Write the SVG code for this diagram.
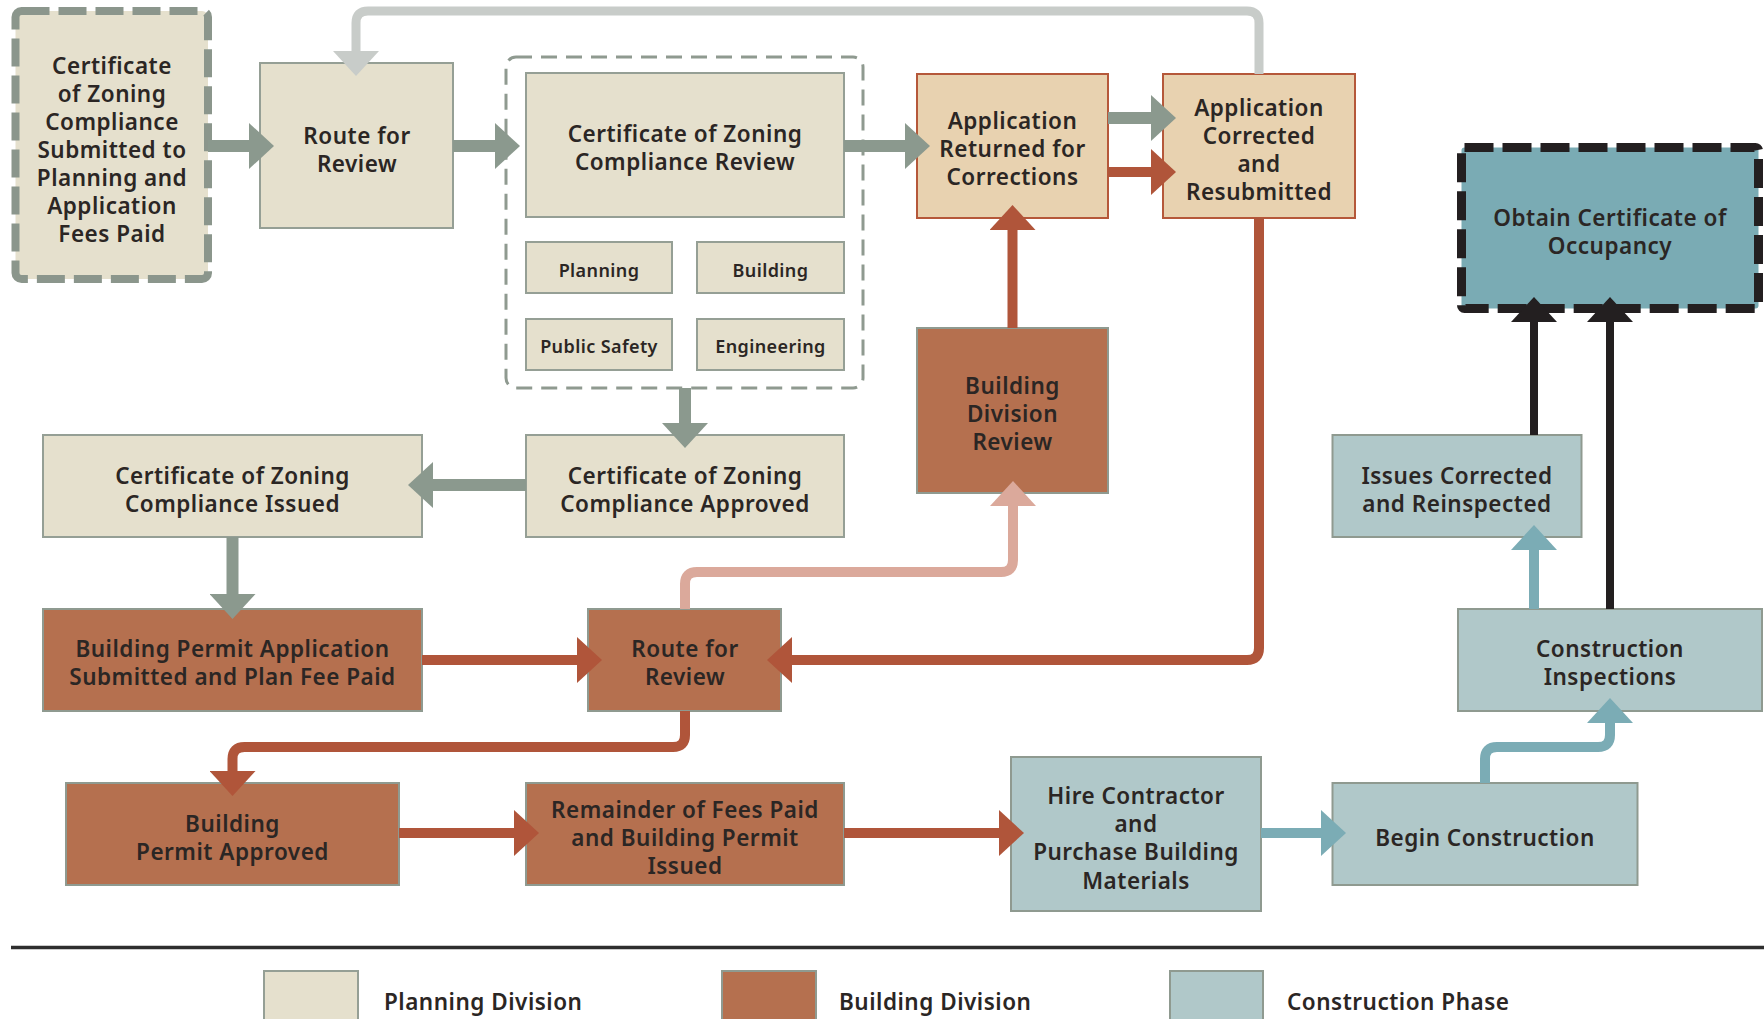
<svg xmlns="http://www.w3.org/2000/svg" width="1764" height="1019" viewBox="0 0 1764 1019">
<defs>
<style>
text{font-family:"Noto Sans",Lato,"Liberation Sans",sans-serif;font-weight:600;fill:#2b2624;text-anchor:middle;dominant-baseline:central;font-size:22.5px;letter-spacing:0.5px}
.sm{font-size:18px;letter-spacing:0.4px}
.lg{text-anchor:start;font-size:22.5px}
.pl{fill:#e5e0cd;stroke:#959f95;stroke-width:2}
.bd{fill:#b5704f;stroke:#8f9a90;stroke-width:2}
.cn{fill:#b0c8c9;stroke:#8f9a90;stroke-width:2}
.tn{fill:#e8d2b0;stroke:#b5583a;stroke-width:2}
.c{fill:none;stroke-linejoin:round}
.g{stroke:#8b998e;stroke-width:12}
.r{stroke:#b0553a;stroke-width:10}
.s{stroke:#dba99b;stroke-width:10}
.t{stroke:#7bacb5;stroke-width:10}
.k{stroke:#231f20;stroke-width:8}
.lgr{stroke:#c8ccc9;stroke-width:9}
</style>
<marker id="mg" markerUnits="userSpaceOnUse" viewBox="0 0 25 46" refX="0" refY="23" markerWidth="25" markerHeight="46" orient="auto"><path d="M0,0 L25,23 L0,46 z" fill="#8b998e"/></marker>
<marker id="mr" markerUnits="userSpaceOnUse" viewBox="0 0 25 46" refX="0" refY="23" markerWidth="25" markerHeight="46" orient="auto"><path d="M0,0 L25,23 L0,46 z" fill="#b0553a"/></marker>
<marker id="ms" markerUnits="userSpaceOnUse" viewBox="0 0 25 46" refX="0" refY="23" markerWidth="25" markerHeight="46" orient="auto"><path d="M0,0 L25,23 L0,46 z" fill="#dba99b"/></marker>
<marker id="mt" markerUnits="userSpaceOnUse" viewBox="0 0 25 46" refX="0" refY="23" markerWidth="25" markerHeight="46" orient="auto"><path d="M0,0 L25,23 L0,46 z" fill="#7bacb5"/></marker>
<marker id="mk" markerUnits="userSpaceOnUse" viewBox="0 0 25 46" refX="0" refY="23" markerWidth="25" markerHeight="46" orient="auto"><path d="M0,0 L25,23 L0,46 z" fill="#231f20"/></marker>
<marker id="ml" markerUnits="userSpaceOnUse" viewBox="0 0 25 46" refX="0" refY="23" markerWidth="25" markerHeight="46" orient="auto"><path d="M0,0 L25,23 L0,46 z" fill="#c8ccc9"/></marker>
</defs>
<rect width="1764" height="1019" fill="#ffffff"/>

<g id="czc-group">
<rect x="506" y="57" width="357" height="331" rx="10" fill="none" stroke="#8f9a90" stroke-width="3" stroke-dasharray="16 9"/>
</g>

<g id="n-submitted">
<rect x="15.5" y="11" width="192.5" height="268" rx="6" fill="#e5e0cd" stroke="#8b968c" stroke-width="8" stroke-dasharray="28 9"/>
<text x="112" y="65">Certificate</text>
<text x="112" y="93">of Zoning</text>
<text x="112" y="121">Compliance</text>
<text x="112" y="149">Submitted to</text>
<text x="112" y="177">Planning and</text>
<text x="112" y="205">Application</text>
<text x="112" y="233">Fees Paid</text>
</g>

<g id="n-route1">
<rect class="pl" x="260" y="63" width="193" height="165"/>
<text x="357" y="135">Route for</text>
<text x="357" y="163">Review</text>
</g>

<g id="n-czc-review">
<rect class="pl" x="526" y="73" width="318" height="144"/>
<text x="685" y="133">Certificate of Zoning</text>
<text x="685" y="161">Compliance Review</text>
</g>

<g id="n-planning"><rect class="pl" x="526" y="242" width="146" height="51"/><text class="sm" x="599" y="270">Planning</text></g>
<g id="n-building"><rect class="pl" x="697" y="242" width="147" height="51"/><text class="sm" x="770.5" y="270">Building</text></g>
<g id="n-publicsafety"><rect class="pl" x="526" y="319" width="146" height="51"/><text class="sm" x="599" y="346">Public Safety</text></g>
<g id="n-engineering"><rect class="pl" x="697" y="319" width="147" height="51"/><text class="sm" x="770.5" y="346">Engineering</text></g>

<g id="n-returned">
<rect class="tn" x="917" y="74" width="191" height="144"/>
<text x="1012.5" y="120.5">Application</text>
<text x="1012.5" y="148.5">Returned for</text>
<text x="1012.5" y="176.5">Corrections</text>
</g>

<g id="n-corrected">
<rect class="tn" x="1163" y="74" width="192" height="144"/>
<text x="1259" y="107">Application</text>
<text x="1259" y="135">Corrected</text>
<text x="1259" y="163">and</text>
<text x="1259" y="191">Resubmitted</text>
</g>

<g id="n-occupancy">
<rect x="1461.5" y="147.5" width="297" height="161" fill="#7aabb4" stroke="#231f20" stroke-width="9" stroke-dasharray="29 9" rx="3"/>
<text x="1610" y="217">Obtain Certificate of</text>
<text x="1610" y="245">Occupancy</text>
</g>

<g id="n-bdr">
<rect class="bd" x="917" y="328" width="191" height="165"/>
<text x="1012.5" y="385">Building</text>
<text x="1012.5" y="413">Division</text>
<text x="1012.5" y="441">Review</text>
</g>

<g id="n-czc-issued">
<rect class="pl" x="43" y="435" width="379" height="102"/>
<text x="232.5" y="475">Certificate of Zoning</text>
<text x="232.5" y="503">Compliance Issued</text>
</g>

<g id="n-czc-approved">
<rect class="pl" x="526" y="435" width="318" height="102"/>
<text x="685" y="475">Certificate of Zoning</text>
<text x="685" y="503">Compliance Approved</text>
</g>

<g id="n-bp-app">
<rect class="bd" x="43" y="609" width="379" height="102"/>
<text x="232.5" y="648">Building Permit Application</text>
<text x="232.5" y="676">Submitted and Plan Fee Paid</text>
</g>

<g id="n-route2">
<rect class="bd" x="588" y="609" width="193" height="102"/>
<text x="685" y="648">Route for</text>
<text x="685" y="676">Review</text>
</g>

<g id="n-bp-approved">
<rect class="bd" x="66" y="783" width="333" height="102"/>
<text x="232.5" y="823.5">Building</text>
<text x="232.5" y="851.5">Permit Approved</text>
</g>

<g id="n-remainder">
<rect class="bd" x="526" y="783" width="318" height="102"/>
<text x="685" y="809">Remainder of Fees Paid</text>
<text x="685" y="837">and Building Permit</text>
<text x="685" y="865">Issued</text>
</g>

<g id="n-hire">
<rect class="cn" x="1011" y="757" width="250" height="154"/>
<text x="1136" y="795">Hire Contractor</text>
<text x="1136" y="823.5">and</text>
<text x="1136" y="851.5">Purchase Building</text>
<text x="1136" y="880">Materials</text>
</g>

<g id="n-begin">
<rect class="cn" x="1332.5" y="783" width="305" height="102"/>
<text x="1485" y="837">Begin Construction</text>
</g>

<g id="n-issues">
<rect class="cn" x="1332.5" y="435" width="249" height="102"/>
<text x="1457" y="475">Issues Corrected</text>
<text x="1457" y="503">and Reinspected</text>
</g>

<g id="n-inspections">
<rect class="cn" x="1458" y="609" width="304" height="102"/>
<text x="1610" y="648">Construction</text>
<text x="1610" y="676">Inspections</text>
</g>

<g id="connectors">
<path class="c lgr" d="M1259,74 V23 Q1259,11 1247,11 H368 Q356,11 356,23 V51" marker-end="url(#ml)"/>
<path class="c g" d="M208,146 H249" marker-end="url(#mg)"/>
<path class="c g" d="M453,146 H495" marker-end="url(#mg)"/>
<path class="c g" d="M844,146 H905" marker-end="url(#mg)"/>
<path class="c g" d="M1108,118 H1151" marker-end="url(#mg)"/>
<path class="c g" d="M685,388 V423" marker-end="url(#mg)"/>
<path class="c g" d="M526,485 H433" marker-end="url(#mg)"/>
<path class="c g" d="M232.5,537 V594" marker-end="url(#mg)"/>
<path class="c r" d="M1108,172 H1151" marker-end="url(#mr)"/>
<path class="c r" d="M1012.5,328 V230" marker-end="url(#mr)"/>
<path class="c r" d="M1259,218 V648 Q1259,660 1247,660 H792" marker-end="url(#mr)"/>
<path class="c r" d="M422,660 H577" marker-end="url(#mr)"/>
<path class="c r" d="M685,711 V735 Q685,747 673,747 H244.5 Q232.5,747 232.5,759 V771" marker-end="url(#mr)"/>
<path class="c r" d="M399,833 H514" marker-end="url(#mr)"/>
<path class="c r" d="M844,833 H999" marker-end="url(#mr)"/>
<path class="c s" d="M685,609 V584 Q685,572 697,572 H1001 Q1013,572 1013,560 V506" marker-end="url(#ms)"/>
<path class="c t" d="M1261,833 H1321" marker-end="url(#mt)"/>
<path class="c t" d="M1485,783 V759 Q1485,747 1497,747 H1598 Q1610,747 1610,735 V723" marker-end="url(#mt)"/>
<path class="c t" d="M1534,609 V550" marker-end="url(#mt)"/>
<path class="c k" d="M1534,435 V322" marker-end="url(#mk)"/>
<path class="c k" d="M1610,609 V322" marker-end="url(#mk)"/>
</g>

<g id="legend">
<line x1="11" y1="947.5" x2="1764" y2="947.5" stroke="#2e2e2e" stroke-width="3.5"/>
<rect class="pl" x="264" y="971" width="94" height="60"/>
<text class="lg" x="384" y="1001">Planning Division</text>
<rect class="bd" x="722" y="971" width="94" height="60"/>
<text class="lg" x="839" y="1001">Building Division</text>
<rect class="cn" x="1170" y="971" width="93" height="60"/>
<text class="lg" x="1287" y="1001">Construction Phase</text>
</g>
</svg>
